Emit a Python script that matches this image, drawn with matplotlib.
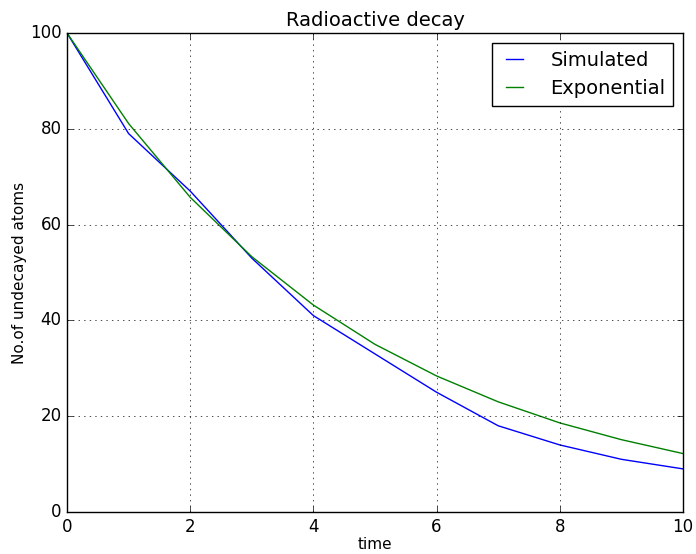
import matplotlib
matplotlib.use('Agg')
import matplotlib.pyplot as plt

plt.style.use('classic')

t = [0, 1, 2, 3, 4, 5, 6, 7, 8, 9, 10]
simulated = [100, 79, 67, 53, 41, 33, 25, 18, 14, 11, 9]
exponential = [100, 81.1, 65.7, 53.3, 43.2, 35.0, 28.4, 23.0, 18.6, 15.1, 12.2]

fig = plt.figure(figsize=(6.96, 5.54), dpi=100)
ax = fig.add_axes([67/696, 42/554, 616/696, 479/554])
ax.plot(t, simulated, 'b', label='Simulated')
ax.plot(t, exponential, 'g', label='Exponential')
ax.set_xlim(0, 10)
ax.set_ylim(0, 100)
ax.set_title('Radioactive decay', fontsize=14)
ax.set_xlabel('time', fontsize=11, labelpad=1)
ax.set_ylabel('No.of undecayed atoms', fontsize=11, labelpad=2)
ax.grid(True)
ax.legend(loc='upper right', handlelength=1.5, handletextpad=1.1, fontsize=14)

fig.savefig('out.png', dpi=100)
